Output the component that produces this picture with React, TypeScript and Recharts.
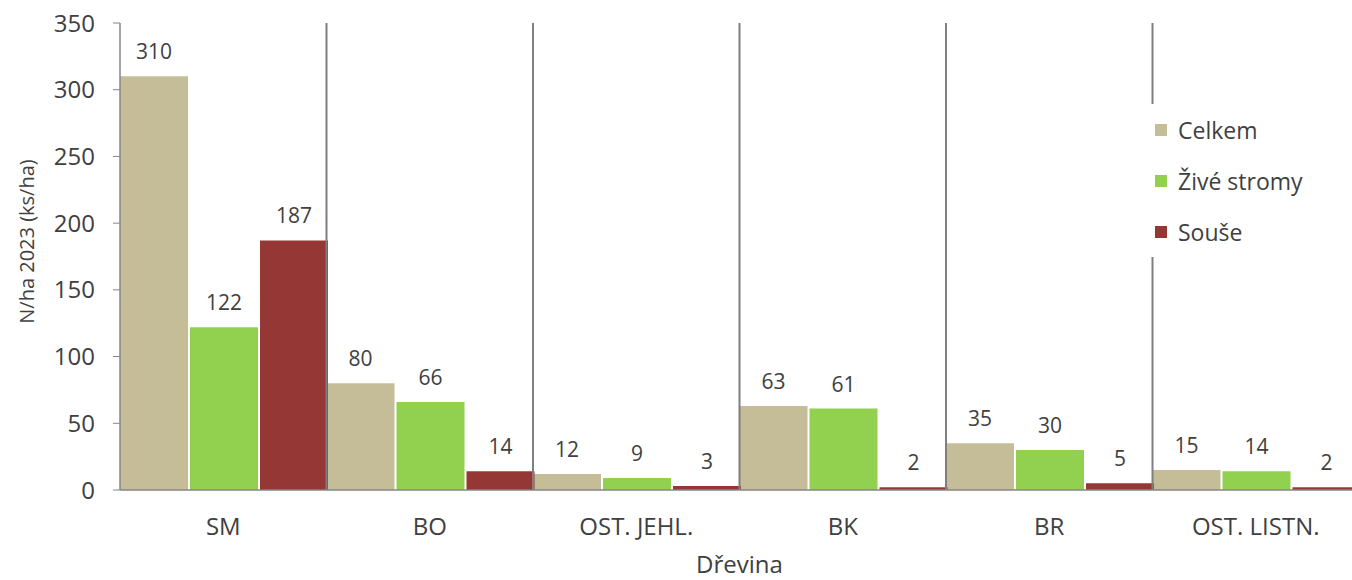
import { BarChart, Bar, XAxis, YAxis, Legend, LabelList, ReferenceLine } from 'recharts'

const categories = ['SM', 'BO', 'OST. JEHL.', 'BK', 'BR', 'OST. LISTN.']
const celkem = [310, 80, 12, 63, 35, 15]
const ziveStromy = [122, 66, 9, 61, 30, 14]
const souse = [187, 14, 3, 2, 5, 2]
const yTicks = [0, 50, 100, 150, 200, 250, 300, 350]

const data = categories.map((drevina, i) => ({
  drevina,
  celkem: celkem[i],
  zive: ziveStromy[i],
  souse: souse[i],
}))

const FONT = '"Open Sans", sans-serif'
const TEXT = '#404040'
const AXIS = '#868686'

const series = [
  { key: 'celkem', name: 'Celkem', color: '#c4bd97' },
  { key: 'zive', name: 'Živé stromy', color: '#92d050' },
  { key: 'souse', name: 'Souše', color: '#953735' },
]
const seriesOrder = series.map((s) => s.name)

function LegendBox({ payload }: any) {
  // keep the series order, recharts sorts by name otherwise
  const items = [...(payload || [])].sort(
    (a: any, b: any) => seriesOrder.indexOf(a.value) - seriesOrder.indexOf(b.value)
  )
  return (
    <div style={{ background: '#fff', fontFamily: FONT, fontSize: 23, color: TEXT }}>
      {items.map((p: any) => (
        <div key={p.value} style={{ height: 51, display: 'flex', alignItems: 'center' }}>
          <span style={{ width: 12, height: 12, background: p.color, marginLeft: 8, marginRight: 11 }} />
          <span>{p.value}</span>
        </div>
      ))}
    </div>
  )
}

export default function App() {
  return (
    <div style={{ width: 1352, height: 580, overflow: 'hidden', background: '#fff' }}>
      <style>{'body{margin:0;overflow:hidden}'}</style>
      <BarChart
        width={1362}
        height={580}
        data={data}
        margin={{ top: 23, right: 3, bottom: 0, left: 0 }}
        barCategoryGap={0}
        barGap={2}
      >
        <XAxis
          dataKey="drevina"
          height={90}
          axisLine={{ stroke: AXIS, strokeWidth: 1.5 }}
          tickLine={false}
          tickSize={0}
          tickMargin={28}
          tick={{ fontSize: 24, fontFamily: FONT, fill: TEXT }}
          interval={0}
          label={{ value: 'Dřevina', position: 'insideBottom', offset: 7, fontSize: 24, fontFamily: FONT, fill: TEXT }}
        />
        <YAxis
          width={120}
          domain={[0, 350]}
          ticks={yTicks}
          axisLine={{ stroke: AXIS, strokeWidth: 1.5 }}
          tickLine={{ stroke: AXIS }}
          tickSize={7}
          tickMargin={18}
          tick={{ fontSize: 24, fontFamily: FONT, fill: TEXT }}
          label={{
            value: 'N/ha 2023 (ks/ha)',
            angle: -90,
            position: 'insideLeft',
            offset: 27,
            dy: -15,
            fontSize: 20,
            fontFamily: FONT,
            fill: TEXT,
            style: { textAnchor: 'middle' },
          }}
        />
        {categories.slice(1).map((c) => (
          <ReferenceLine key={c} x={c} position="start" stroke="#7f7f7f" strokeWidth={2} />
        ))}
        {series.map((s) => (
          <Bar key={s.key} dataKey={s.key} name={s.name} fill={s.color} isAnimationActive={false}>
            <LabelList dataKey={s.key} position="top" offset={17} fontSize={21} fontFamily={FONT} fill={TEXT} />
          </Bar>
        ))}
        <Legend
          layout="vertical"
          align="center"
          verticalAlign="middle"
          wrapperStyle={{ left: 1147, top: 104, width: 185 }}
          content={<LegendBox />}
        />
      </BarChart>
    </div>
  )
}
